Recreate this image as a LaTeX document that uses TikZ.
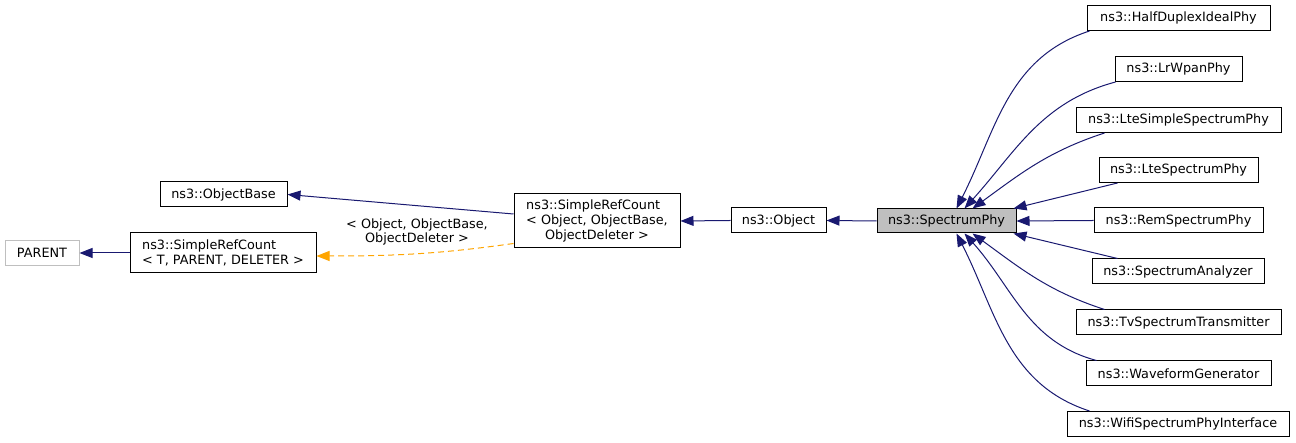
\documentclass[tikz,border=0pt]{standalone}
\usepackage{fontspec}
\setmainfont{DejaVu Sans}
\definecolor{DoxBlue}{RGB}{25, 25, 112}
\definecolor{DoxOrange}{RGB}{255, 165, 0}
\definecolor{DoxGrey}{RGB}{191, 191, 191}
\usepackage{tikz}
\usetikzlibrary{arrows.meta}

\begin{document}
\begin{tikzpicture}[x=1pt, y=1pt,
    every node/.style={font=\fontsize{12.8}{15}\selectfont},
    cls/.style={draw=black, line width=1pt, minimum height=25pt, inner xsep=2pt, inner ysep=3pt},
    inh/.style={DoxBlue, line width=1pt, -{Triangle[length=13pt, width=10pt]}},
    tmpl/.style={DoxOrange, line width=1pt, dash pattern=on 6pt off 4pt, -{Triangle[length=13pt, width=10pt]}}]
        \useasboundingbox (0,0) rectangle (1296,443);
        % base classes
        \node[cls, draw=DoxGrey, minimum width=74pt] (parent) at (42,190) {PARENT};
        \node[cls, minimum width=186pt, minimum height=40pt, align=left] (srcT) at (223,190)
             {ns3::SimpleRefCount\\< T, PARENT, DELETER >};
        \node[cls, minimum width=127pt] (obase) at (223.5,248.5) {ns3::ObjectBase};
        \node[cls, minimum width=166pt, minimum height=54pt, align=center] (srcO) at (597,222)
             {\rlap{ns3::SimpleRefCount}\phantom{< Object, ObjectBase,}\\< Object, ObjectBase,\\ObjectDeleter >};
        \node[cls, minimum width=95pt] (obj) at (778.5,222.5) {ns3::Object};
        \node[cls, fill=DoxGrey, minimum width=139pt, minimum height=24pt] (sp) at (946.5,222) {ns3::SpectrumPhy};
        % derived classes
        \node[cls, minimum width=183pt] (hdi)  at (1178.5,425)   {ns3::HalfDuplexIdealPhy};
        \node[cls, minimum width=127pt] (lrw)  at (1178.5,374)   {ns3::LrWpanPhy};
        \node[cls, minimum width=205pt] (lss)  at (1178.5,323)   {ns3::LteSimpleSpectrumPhy};
        \node[cls, minimum width=159pt] (lsp)  at (1178.5,273)   {ns3::LteSpectrumPhy};
        \node[cls, minimum width=169pt] (rem)  at (1178.5,222.5) {ns3::RemSpectrumPhy};
        \node[cls, minimum width=172pt] (san)  at (1178,171.5)   {ns3::SpectrumAnalyzer};
        \node[cls, minimum width=205pt] (tvs)  at (1178.5,120.5) {ns3::TvSpectrumTransmitter};
        \node[cls, minimum width=185pt] (wfg)  at (1178.5,69.5)  {ns3::WaveformGenerator};
        \node[cls, minimum width=222pt] (wifi) at (1178,19)      {ns3::WifiSpectrumPhyInterface};

        \draw[inh] (srcT.west) -- (parent.east);
        \draw[inh] ([yshift=7pt]srcO.west) -- (obase.east);
        \draw[tmpl] ([yshift=5pt]srcO.south west) to[out=188, in=0] ([yshift=-3pt]srcT.east);
        \node[align=center, font=\fontsize{12.8}{14.5}\selectfont] (tlabel) at (417,211)
             {< Object, ObjectBase,\\ObjectDeleter >};
        \draw[inh] (obj.west) -- (srcO.east);
        \draw[inh] (sp.west) -- (obj.east);

        \draw[inh] ([xshift=3pt]hdi.south west) to[out=198, in=63] ([xshift=10pt]sp.north);
        \draw[inh] ([xshift=1pt]lrw.south west) to[out=195, in=48] ([xshift=18pt]sp.north);
        \draw[inh] ([xshift=29pt]lss.south west) to[out=198, in=36] ([xshift=26pt]sp.north);
        \draw[inh] ([xshift=19pt]lsp.south west) -- ([xshift=-3pt]sp.north east);
        \draw[inh] (rem.west) -- (sp.east);
        \draw[inh] ([xshift=26pt]san.north west) -- ([xshift=-3pt]sp.south east);
        \draw[inh] ([xshift=29pt]tvs.north west) to[out=162, in=-36] ([xshift=26pt]sp.south);
        \draw[inh] ([xshift=11pt]wfg.north west) to[out=165, in=-48] ([xshift=18pt]sp.south);
        \draw[inh] ([xshift=23pt]wifi.north west) to[out=162, in=-63] ([xshift=10pt]sp.south);
      \end{tikzpicture}
\end{document}
